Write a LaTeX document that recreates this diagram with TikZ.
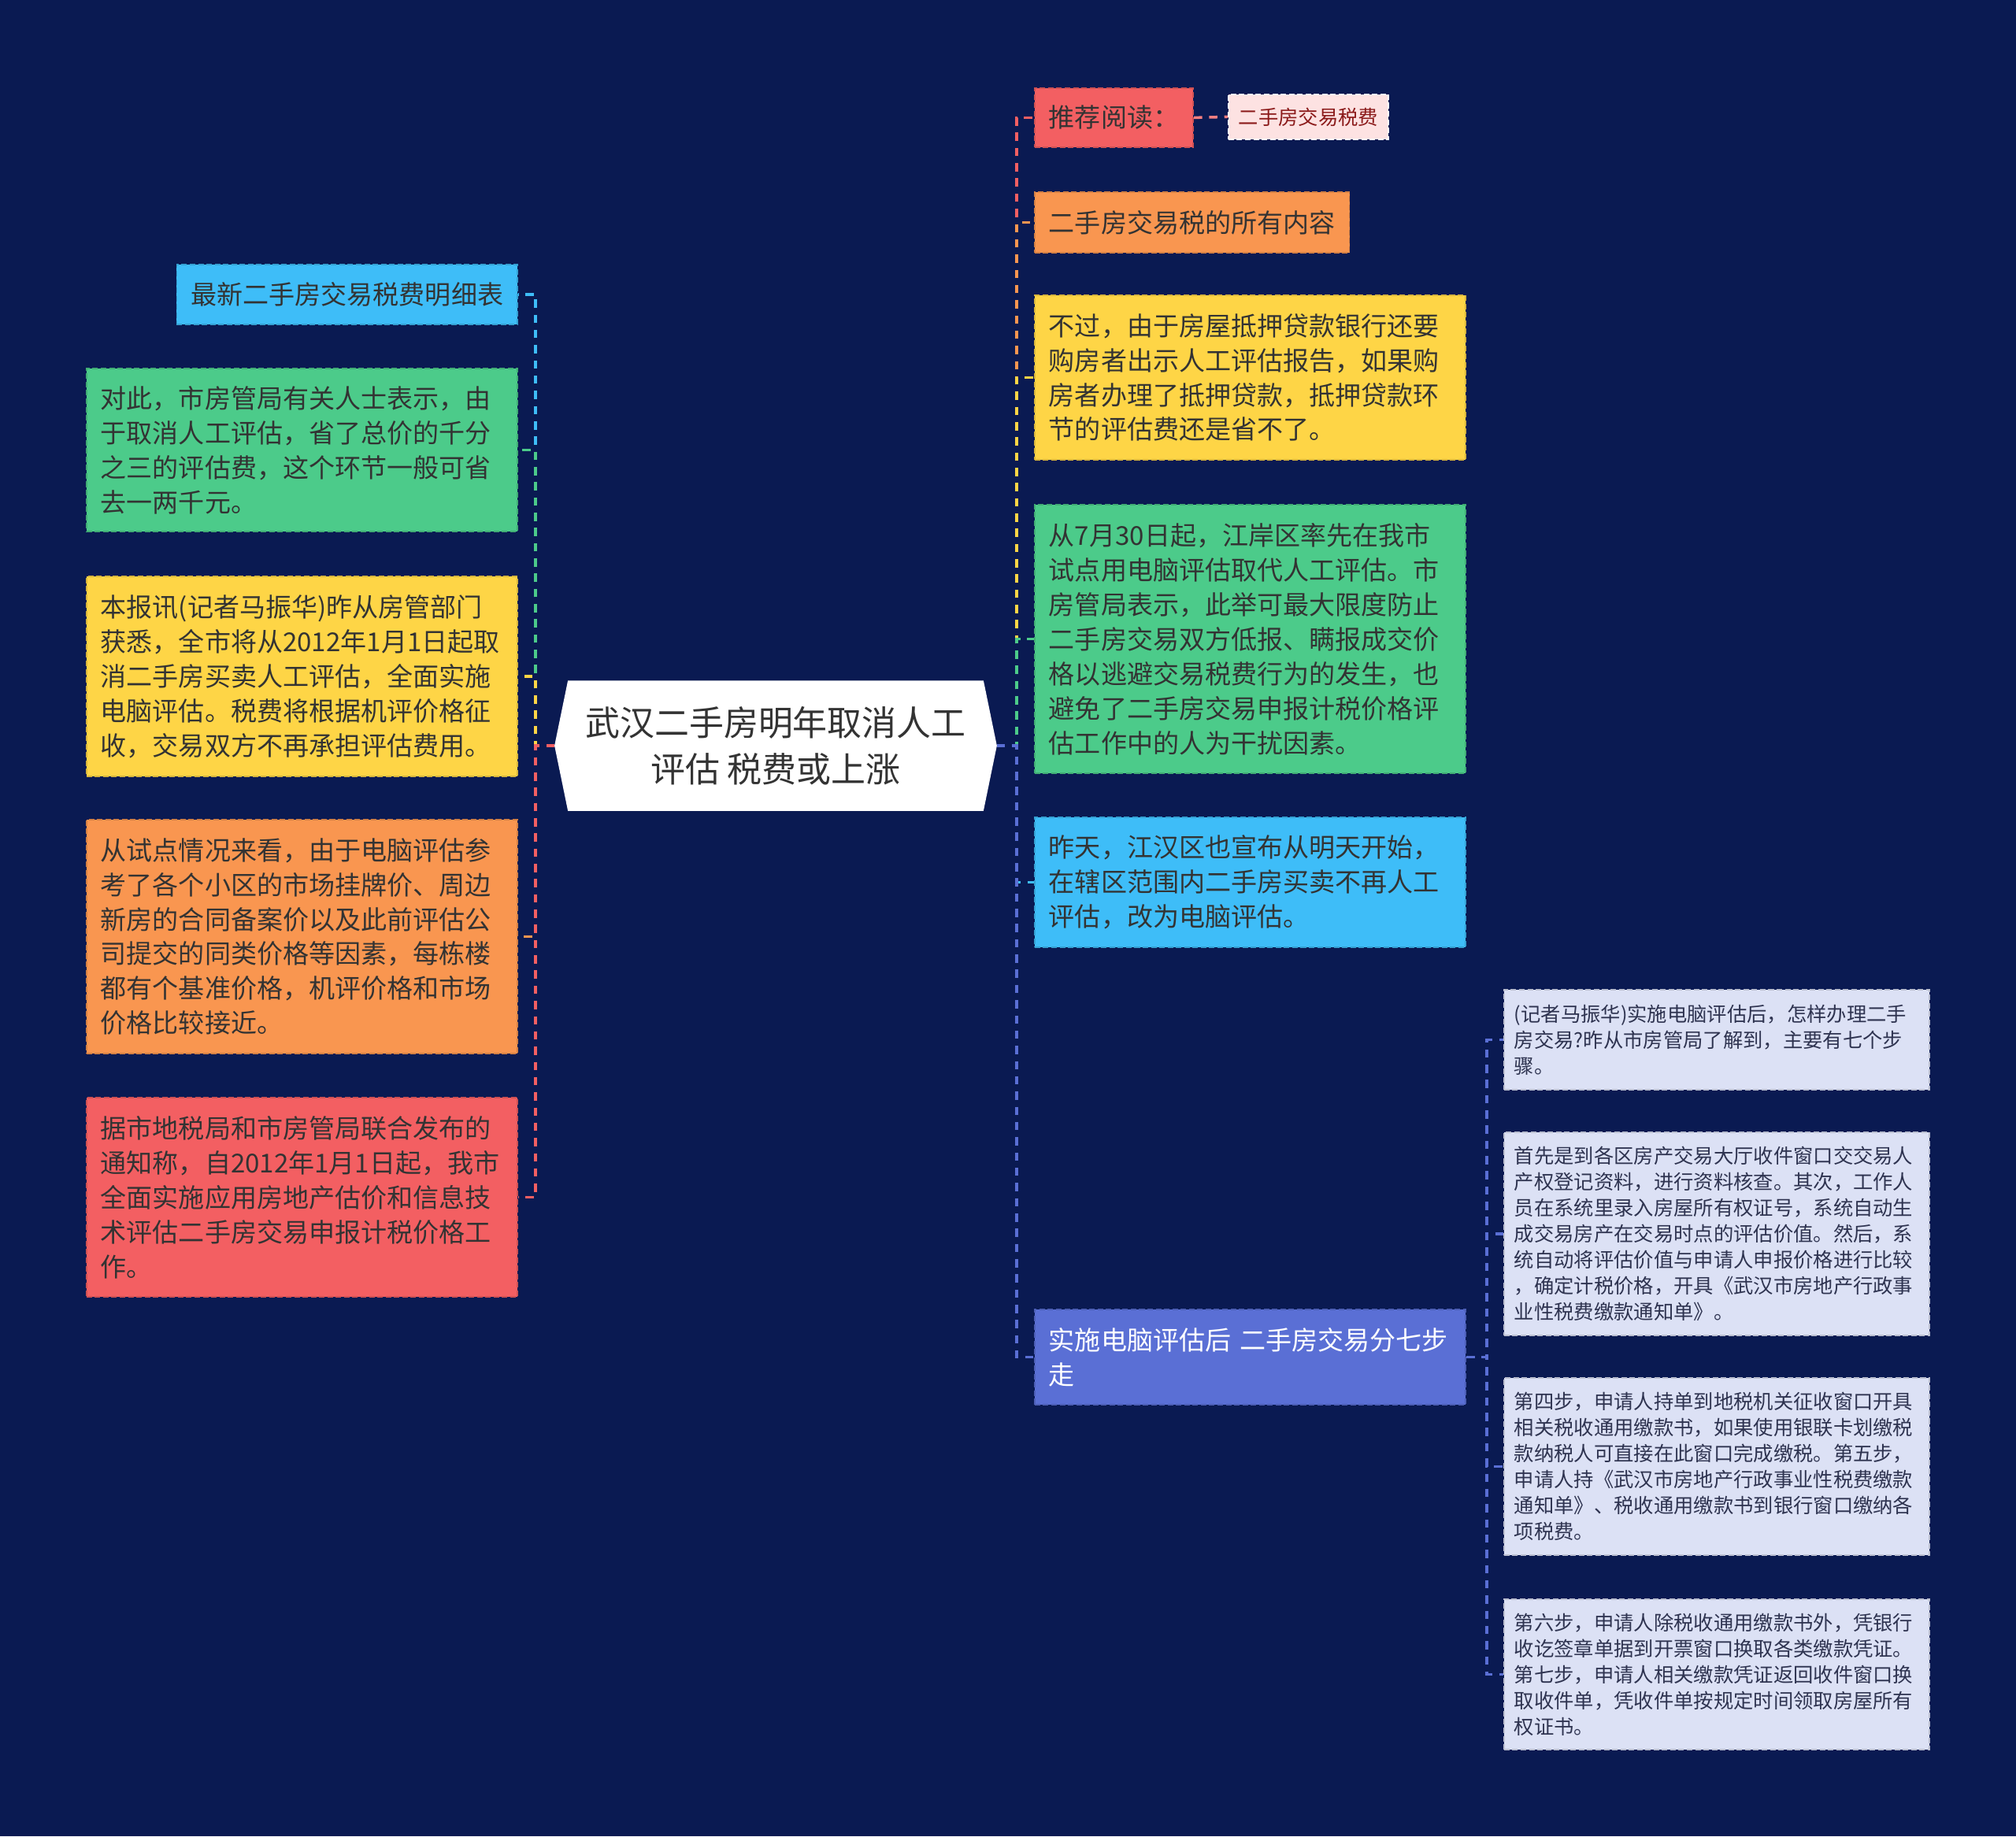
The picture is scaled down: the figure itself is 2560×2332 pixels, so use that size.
\documentclass[tikz,border=0pt]{standalone}
\usepackage{fontspec}
\setmainfont{Noto Sans CJK SC}
\usetikzlibrary{positioning,calc,backgrounds}

\definecolor{bgnavy}{HTML}{0A1A52}
\definecolor{txtdark}{HTML}{333333}
\definecolor{redc}{HTML}{F35F62}
\definecolor{pinkc}{HTML}{FDE2E2}
\definecolor{pinktxt}{HTML}{8B1A1A}
\definecolor{orangec}{HTML}{F99650}
\definecolor{yellowc}{HTML}{FED546}
\definecolor{greenc}{HTML}{4CCB8A}
\definecolor{cyanc}{HTML}{3EBDF8}
\definecolor{bluec}{HTML}{5A6FD5}
\definecolor{leafc}{HTML}{DCE1F5}
\definecolor{leaftxt}{HTML}{2E3350}

\newcommand{\bodyfs}{\fontsize{9.4}{12.5}\selectfont}
\newcommand{\leaffs}{\fontsize{7.2}{9.4}\selectfont}
\newcommand{\topicfs}{\fontsize{12.5}{16.8}\selectfont}

\begin{document}
\begin{tikzpicture}[x=0.01cm, y=-0.01cm,
    topic/.style={minimum width=5.6cm, minimum height=1.64cm, align=center, font=\topicfs, text=txtdark},
    card/.style={rectangle, fill=#1, draw=#1!85!black, dash pattern=on 2pt off 1pt, line width=0.5pt, anchor=north west, align=left, inner xsep=0.18cm, inner ysep=0pt, font=\bodyfs, text=txtdark},
    para/.style={text width=5.11cm},
    leaf/.style={card=leafc, inner xsep=0.13cm, text width=5.14cm, font=\leaffs, text=leaftxt},
    link/.style={draw=#1, dash pattern=on 3pt off 2.5pt, line width=1pt},
]

% background
\begin{scope}[on background layer]
\fill[bgnavy] (0,0) rectangle (2560,2332);
\end{scope}
\useasboundingbox (0,0) rectangle (2560,2332);

% central topic
\node[topic] (topic) at (985,947) {武汉二手房明年取消人工\\评估 税费或上涨};
\begin{scope}[on background layer]
\fill[white] (topic.west) -- ($(topic.north west)+(17,0)$) -- ($(topic.north east)+(-17,0)$)
  -- (topic.east) -- ($(topic.south east)+(-17,0)$) -- ($(topic.south west)+(17,0)$) -- cycle;
\end{scope}

% right branch
\node[card=redc, minimum height=0.75cm] (read) at (1313,111) {推荐阅读：};
\node[card=pinkc, draw=white, inner xsep=0.13cm, minimum height=0.57cm, font=\leaffs, text=pinktxt] (readtax) at (1559,119) {二手房交易税费};
\node[card=orangec, minimum height=0.77cm] (alltax) at (1313,243) {二手房交易税的所有内容};
\node[card=yellowc, para, minimum height=2.09cm] (loan) at (1313,374) {不过，由于房屋抵押贷款银行还要\\购房者出示人工评估报告，如果购\\房者办理了抵押贷款，抵押贷款环\\节的评估费还是省不了。};
\node[card=greenc, para, minimum height=3.41cm] (pilot) at (1313,640) {从7月30日起，江岸区率先在我市\\试点用电脑评估取代人工评估。市\\房管局表示，此举可最大限度防止\\二手房交易双方低报、瞒报成交价\\格以逃避交易税费行为的发生，也\\避免了二手房交易申报计税价格评\\估工作中的人为干扰因素。};
\node[card=cyanc, para, minimum height=1.65cm] (jianghan) at (1313,1037) {昨天，江汉区也宣布从明天开始，\\在辖区范围内二手房买卖不再人工\\评估，改为电脑评估。};
\node[card=bluec, para, minimum height=1.21cm, text=white] (steps) at (1313,1662) {实施电脑评估后 二手房交易分七步\\走};

% steps
\node[leaf, minimum height=1.27cm] (step1) at (1909,1256) {(记者马振华)实施电脑评估后，怎样办理二手\\房交易?昨从市房管局了解到，主要有七个步\\骤。};
\node[leaf, minimum height=2.58cm] (step2) at (1909,1437) {首先是到各区房产交易大厅收件窗口交交易人\\产权登记资料，进行资料核查。其次，工作人\\员在系统里录入房屋所有权证号，系统自动生\\成交易房产在交易时点的评估价值。然后，系\\统自动将评估价值与申请人申报价格进行比较\\，确定计税价格，开具《武汉市房地产行政事\\业性税费缴款通知单》。};
\node[leaf, minimum height=2.25cm] (step3) at (1909,1749) {第四步，申请人持单到地税机关征收窗口开具\\相关税收通用缴款书，如果使用银联卡划缴税\\款纳税人可直接在此窗口完成缴税。第五步，\\申请人持《武汉市房地产行政事业性税费缴款\\通知单》、税收通用缴款书到银行窗口缴纳各\\项税费。};
\node[leaf, minimum height=1.91cm] (step4) at (1909,2030) {第六步，申请人除税收通用缴款书外，凭银行\\收讫签章单据到开票窗口换取各类缴款凭证。\\第七步，申请人相关缴款凭证返回收件窗口换\\取收件单，凭收件单按规定时间领取房屋所有\\权证书。};

% left branch
\node[card=cyanc, anchor=north east, minimum height=0.76cm] (taxlist) at (658,335) {最新二手房交易税费明细表};
\node[card=greenc, anchor=north east, para, minimum height=2.07cm] (saving) at (658,467) {对此，市房管局有关人士表示，由\\于取消人工评估，省了总价的千分\\之三的评估费，这个环节一般可省\\去一两千元。};
\node[card=yellowc, anchor=north east, para, minimum height=2.54cm] (news) at (658,731) {本报讯(记者马振华)昨从房管部门\\获悉，全市将从2012年1月1日起取\\消二手房买卖人工评估，全面实施\\电脑评估。税费将根据机评价格征\\收，交易双方不再承担评估费用。};
\node[card=orangec, anchor=north east, para, minimum height=2.97cm] (market) at (658,1040) {从试点情况来看，由于电脑评估参\\考了各个小区的市场挂牌价、周边\\新房的合同备案价以及此前评估公\\司提交的同类价格等因素，每栋楼\\都有个基准价格，机评价格和市场\\价格比较接近。};
\node[card=redc, anchor=north east, para, minimum height=2.53cm] (notice) at (658,1393) {据市地税局和市房管局联合发布的\\通知称，自2012年1月1日起，我市\\全面实施应用房地产估价和信息技\\术评估二手房交易申报计税价格工\\作。};

% connectors
\draw[link=redc] (topic.east) -- ++(25,0) |- (read.west);
\draw[link=orangec] (topic.east) -- ++(25,0) |- (alltax.west);
\draw[link=yellowc] (topic.east) -- ++(25,0) |- (loan.west);
\draw[link=greenc] (topic.east) -- ++(25,0) |- (pilot.west);
\draw[link=cyanc] (topic.east) -- ++(25,0) |- (jianghan.west);
\draw[link=bluec] (topic.east) -- ++(25,0) |- (steps.west);
\draw[link=redc!80!white] (read.east) -- (readtax.west);

\draw[link=bluec] (steps.east) -- ++(26,0) |- (step1.west);
\draw[link=bluec] (steps.east) -- ++(26,0) |- (step2.west);
\draw[link=bluec] (steps.east) -- ++(26,0) |- (step3.west);
\draw[link=bluec] (steps.east) -- ++(26,0) |- (step4.west);

\draw[link=cyanc] (topic.west) -- ++(-24,0) |- (taxlist.east);
\draw[link=greenc] (topic.west) -- ++(-24,0) |- (saving.east);
\draw[link=yellowc] (topic.west) -- ++(-24,0) |- (news.east);
\draw[link=orangec] (topic.west) -- ++(-24,0) |- (market.east);
\draw[link=redc] (topic.west) -- ++(-24,0) |- (notice.east);

\end{tikzpicture}
\end{document}
